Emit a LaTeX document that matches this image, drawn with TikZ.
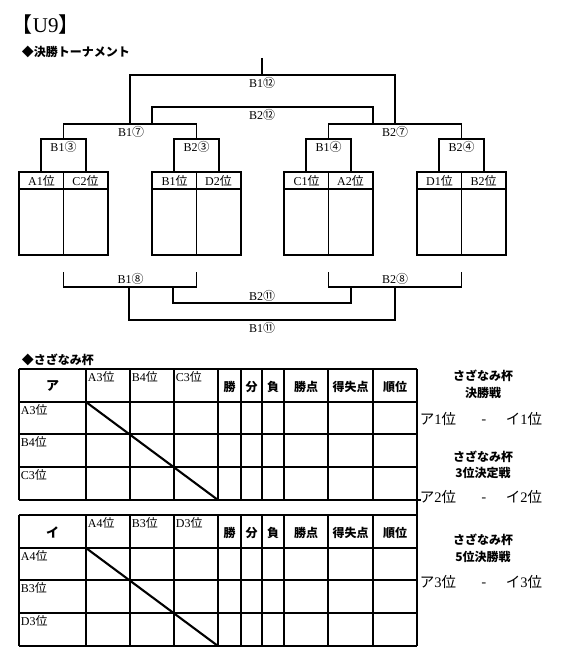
\documentclass[tikz,border=0pt]{standalone}
\usepackage{fontspec}
\setmainfont{Liberation Serif}
\newfontfamily\cjk{Noto Sans CJK JP}
\newcommand\jp[1]{{\cjk #1}}
\begin{document}
\begin{tikzpicture}[x=1pt,y=-1pt,line width=1.7pt,
  lbl/.style={inner sep=0pt, font=\fontsize{12}{14}\selectfont},
  hdr/.style={inner sep=0pt, font=\cjk\bfseries\fontsize{12}{14}\selectfont},
  mt/.style={inner sep=0pt, anchor=base, font=\fontsize{14.5}{16}\selectfont},
  greyline/.style={line width=1.2pt},
  diag/.style={line width=2.1pt}]
\useasboundingbox (0,0) rectangle (563,668);
\fill[white] (0,0) rectangle (563,668);

% titles
\node[anchor=west, inner sep=0pt, font=\fontsize{21}{24}\selectfont] (title) at (11,25) {\jp{【}U9\jp{】}};
\node[hdr, anchor=west] (sec1) at (21,52) {◆決勝トーナメント};

% upper brackets
\coordinate (top) at (262,58);
\draw (top) -- (262,75);
\draw (130,124) -- (130,75) -- (395,75) -- (395,124);
\draw[greyline] (152,124) -- (152,107) -- (373,107) -- (373,124);
\draw (63.5,139) -- (63.5,124) -- (196.5,124) -- (196.5,139);
\draw (328.5,139) -- (328.5,124) -- (461.5,124) -- (461.5,139);
\node[lbl] (b112) at (262,83) {B1\jp{⑫}};
\node[lbl] (b212) at (262,115) {B2\jp{⑫}};
\node[lbl] (b17) at (131,132) {B1\jp{⑦}};
\node[lbl] (b27) at (395,132) {B2\jp{⑦}};

% small boxes and pair tables
\foreach \c/\t/\l/\r [count=\i] in {63.5/B1\jp{③}/A1/C2, 196.5/B2\jp{③}/B1/D2, 328.5/B1\jp{④}/C1/A2, 461.5/B2\jp{④}/D1/B2} {
  \draw (\c-22.5,172) -- (\c-22.5,139) -- (\c+22.5,139) -- (\c+22.5,172);
  \node[lbl] (box\i) at (\c,147) {\t};
  \draw (\c-44.5,172) rectangle (\c+44.5,255);
  \draw (\c-44.5,189) -- (\c+44.5,189);
  \draw (\c,172) -- (\c,255);
  \node[lbl] (tl\i) at (\c-22,181) {\l\jp{位}};
  \node[lbl] (tr\i) at (\c+22,181) {\r\jp{位}};
}

% lower brackets
\draw (63.5,272) -- (63.5,287) -- (196.5,287) -- (196.5,272);
\draw (328.5,272) -- (328.5,287) -- (461.5,287) -- (461.5,272);
\draw (173,287) -- (173,303) -- (351,303) -- (351,287);
\draw (129,287) -- (129,320) -- (395,320) -- (395,287);
\node[lbl] (b18) at (130.5,279) {B1\jp{⑧}};
\node[lbl] (b28) at (395,279) {B2\jp{⑧}};
\node[lbl] (b211) at (262,296) {B2\jp{⑪}};
\node[lbl] (b111) at (262,328) {B1\jp{⑪}};

% league section
\node[hdr, anchor=west] (sec2) at (21,360) {◆さざなみ杯};

\foreach \s/\g/\ca/\cb/\cc in {0/ア/A3/B4/C3, 146/イ/A4/B3/D3} {
  \begin{scope}[shift={(0,\s)}]
    \foreach \y in {369,402,434,467,500} \draw (19,\y) -- (417,\y);
    \foreach \x in {19,86,130,174,218,241,262,284,328,373} \draw (\x,369) -- (\x,500);
    \draw[diag] (86,402) -- (218,500);
    \node[hdr, font=\cjk\bfseries\fontsize{13}{15}\selectfont] (grp\s) at (52.5,386) {\g};
    \node[lbl, anchor=north west] (ca\s) at (87,371) {\ca\jp{位}};
    \node[lbl, anchor=north west] (cb\s) at (131,371) {\cb\jp{位}};
    \node[lbl, anchor=north west] (cc\s) at (175,371) {\cc\jp{位}};
    \node[lbl, anchor=north west] (ra\s) at (20,404) {\ca\jp{位}};
    \node[lbl, anchor=north west] (rb\s) at (20,436) {\cb\jp{位}};
    \node[lbl, anchor=north west] (rc\s) at (20,469) {\cc\jp{位}};
    \node[hdr] (w\s) at (229.5,387) {勝};
    \node[hdr] (d\s) at (251.5,387) {分};
    \node[hdr] (l\s) at (273,387) {負};
    \node[hdr] (p\s) at (306,387) {勝点};
    \node[hdr] (gd\s) at (350.5,387) {得失点};
    \node[hdr] (rk\s) at (395,387) {順位};
  \end{scope}
}
\draw (417,369) -- (417,646);
\draw (417,500) -- (421,500);

% finals texts
\foreach \ya/\yb/\yc/\t/\n in {376/393/424/決勝戦/1, 457/473/502/3位決定戦/2, 540/557/587/5位決勝戦/3} {
  \node[hdr] (fa\n) at (483,\ya) {さざなみ杯};
  \node[hdr] (fb\n) at (483,\yb) {\t};
  \node[mt, anchor=base west] (fl\n) at (419,\yc) {\jp{ア}\n\jp{位}};
  \node[mt] (fd\n) at (484,\yc) {\jp{-}};
  \node[mt, anchor=base east] (fr\n) at (543,\yc) {\jp{イ}\n\jp{位}};
}
\end{tikzpicture}
\end{document}
